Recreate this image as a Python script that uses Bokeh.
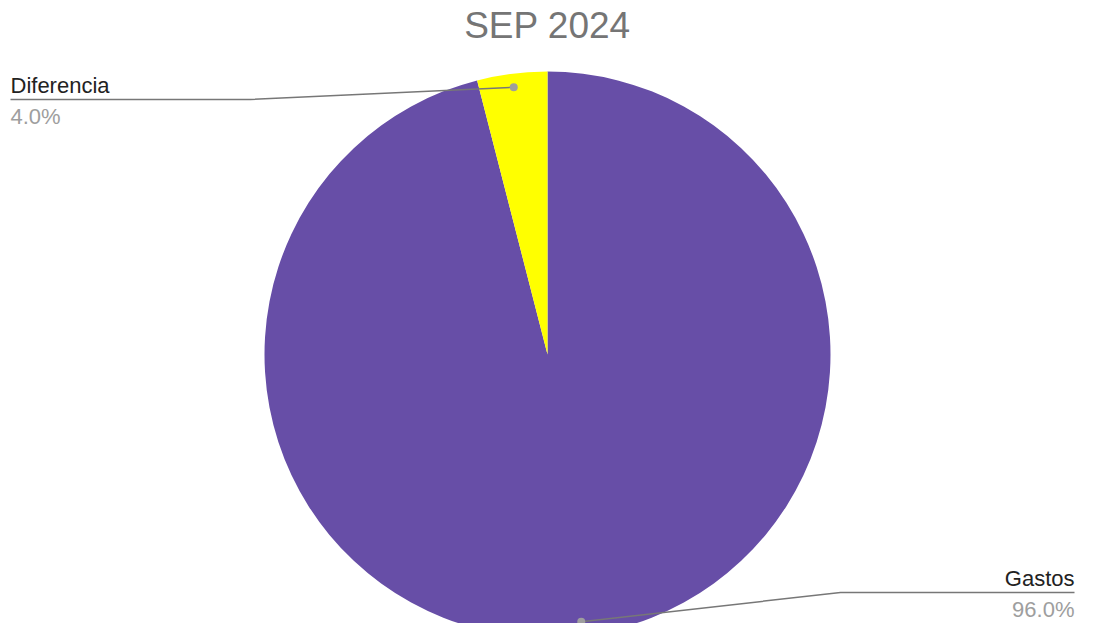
import math
from bokeh.plotting import figure
from bokeh.models import Range1d
from bokeh.core.properties import value
from bokeh.embed import file_html
from bokeh.resources import INLINE

# ---- data ----
categories = ["Gastos", "Diferencia"]
values = [96.0, 4.0]
colors = ["#674ea7", "#ffff00"]
title_text = "SEP 2024"

# ---- layout (pixel space, y negated) ----
W, H = 1077, 623
cx, cy = 547, -354
R = 283
FONT = value("Liberation Sans")

p = figure(width=W, height=H, output_backend="svg", toolbar_location=None,
           x_range=Range1d(0, W), y_range=Range1d(-H, 0),
           min_border=0)
p.axis.visible = False
p.grid.visible = False
p.outline_line_color = None

total = sum(values)
fracs = [v / total for v in values]

# label layout per slice
label_layout = {
    "Gastos": dict(align="right", line_y=-592, elbow_x=840, end_x=1074),
    "Diferencia": dict(align="left", line_y=-99, elbow_x=250, end_x=10),
}

cum = 0.0
for cat, f, col in zip(categories, fracs, colors):
    a0 = math.pi / 2 - 2 * math.pi * (cum + f)
    a1 = math.pi / 2 - 2 * math.pi * cum
    p.wedge(x=[cx], y=[cy], radius=R, start_angle=a0, end_angle=a1,
            direction="anticlock", fill_color=col, line_color=None)
    mid = (a0 + a1) / 2
    dx = cx + 0.952 * R * math.cos(mid)
    dy = cy + 0.952 * R * math.sin(mid)
    L = label_layout[cat]
    p.line(x=[dx, L["elbow_x"], L["end_x"]], y=[dy, L["line_y"], L["line_y"]],
           line_color="#777777", line_width=1.5)
    p.scatter(x=[dx], y=[dy], size=8, fill_color="#9e9e9e", line_color=None)
    p.text(x=[L["end_x"]], y=[L["line_y"] + 14], text=[cat], text_font=FONT,
           text_font_size="22px", text_color="#222222", text_align=L["align"],
           text_baseline="alphabetic")
    p.text(x=[L["end_x"]], y=[L["line_y"] - 17], text=[f"{f*100:.1f}%"], text_font=FONT,
           text_font_size="22px", text_color="#9e9e9e", text_align=L["align"],
           text_baseline="alphabetic")
    cum += f

p.text(x=[cx], y=[-25], text=[title_text], text_font=FONT, text_font_size="37px",
       text_color="#757575", text_align="center", text_baseline="alphabetic")

open("out.html", "w").write(file_html(p, INLINE))
